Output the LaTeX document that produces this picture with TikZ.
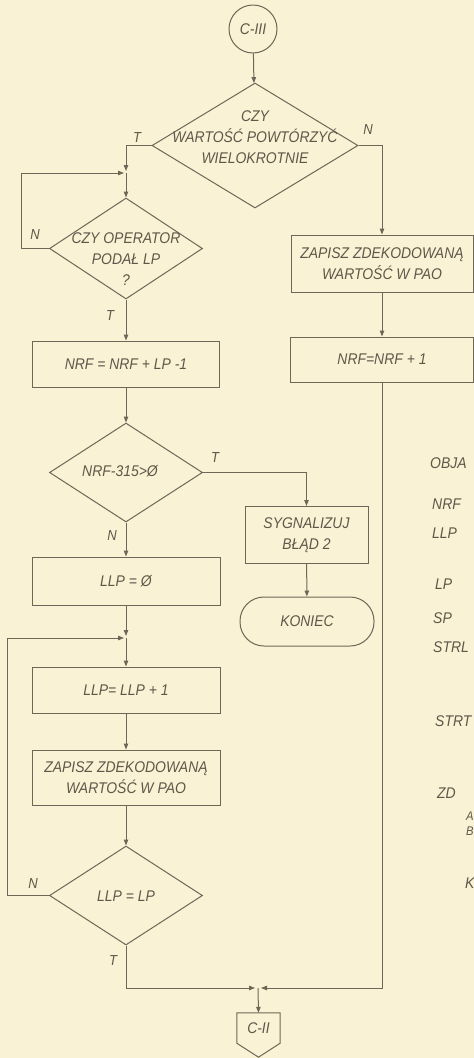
\documentclass[tikz,border=0pt]{standalone}
\usepackage{fontspec}
\setmainfont{Liberation Sans}[FakeStretch=0.9]
\usetikzlibrary{arrows.meta, shapes.geometric, calc, positioning}
\definecolor{paper}{RGB}{250,242,212}
\definecolor{ink}{RGB}{112,102,88}
\definecolor{inktext}{RGB}{96,86,74}

\begin{document}
\begin{tikzpicture}[x=1pt, y=-1pt,
    every node/.style={font=\fontsize{15.5}{21}\selectfont\itshape, text=inktext},
    box/.style={draw=ink, line width=1pt, rectangle, inner sep=0pt, align=center},
    dec/.style={draw=ink, line width=1pt, diamond, inner sep=0pt},
    flow/.style={draw=ink, line width=1pt, -{Triangle[length=6pt,width=4.5pt]}},
    tag/.style={font=\fontsize{14.5}{16}\selectfont\itshape},
    txt/.style={align=center, inner sep=0pt}]
    % Paper
    \clip (0,0) rectangle (474,1058);
    \fill[paper] (0,0) rectangle (474,1058);

    % Left column
    \node[draw=ink, line width=1pt, circle, minimum size=48pt, inner sep=0pt] (c3) at (253,29) {C-III};
    \node[dec, minimum width=206pt, minimum height=125pt] (d1) at (255,145.5) {};
    \node[txt] (d1t) at (255,137) {CZY\\WARTOŚĆ POWTÓRZYĆ\\WIELOKROTNIE};
    \coordinate (m1) at (126,173);
    \node[dec, minimum width=153pt, minimum height=101pt] (d2) at (126,248.5) {};
    \node[txt] (d2t) at (126,259.5) {CZY OPERATOR\\PODAŁ LP\\?};
    \node[box, minimum width=187pt, minimum height=46pt] (b1) at (126,364) {NRF = NRF + LP -1};
    \node[dec, minimum width=153pt, minimum height=99pt] (d3) at (126,472.5) {};
    \node[txt] (d3t) at (120,471) {NRF-315>Ø};
    \node[box, minimum width=188pt, minimum height=48pt] (b2) at (126,581) {LLP = Ø};
    \coordinate (m2) at (126,638);
    \node[box, minimum width=188pt, minimum height=46pt] (b3) at (126,690) {LLP= LLP + 1};
    \node[box, minimum width=188pt, minimum height=55pt] (b4) at (126,777.5) {ZAPISZ ZDEKODOWANĄ\\WARTOŚĆ W PAO};
    \node[dec, minimum width=153pt, minimum height=99pt] (d4) at (126,895.5) {};
    \node[txt] (d4t) at (126,896) {LLP = LP};
    \coordinate (m3) at (258,988);
    \node[inner sep=0pt, minimum width=43pt, minimum height=30pt] (c2) at (258.5,1028) {C-II};
    \draw[ink, line width=1pt] (c2.north west) -- (c2.north east) -- (c2.south east)
        -- ($(c2.south)+(0,14)$) -- (c2.south west) -- cycle;

    % Middle and right column
    \node[box, minimum width=123pt, minimum height=57pt] (sig) at (306.5,535) {SYGNALIZUJ\\BŁĄD 2};
    \node[box, rounded corners=24pt, minimum width=134pt, minimum height=49pt] (kon) at (307,621.5) {KONIEC};
    \node[box, minimum width=182pt, minimum height=57pt] (z1) at (382,263.5) {ZAPISZ ZDEKODOWANĄ\\WARTOŚĆ W PAO};
    \node[box, minimum width=183pt, minimum height=45pt] (n1) at (382,359.5) {NRF=NRF + 1};

    % Connectors
    \draw[flow] (c3) -- (d1);
    \draw[flow, shorten >=2pt] (d1.west) -| (m1);
    \draw[flow, shorten >=2pt] (d2.west) -- ++(-27.5,0) |- (m1);
    \draw[flow] (m1) -- (d2.north);
    \draw[flow] (d2) -- (b1);
    \draw[flow] (b1) -- (d3);
    \draw[flow] (d3.east) -| (sig.north);
    \draw[flow] (sig) -- (kon);
    \draw[flow] (d3) -- (b2);
    \draw[flow, shorten >=2pt] (b2) -- (m2);
    \draw[flow, shorten >=2pt] (d4.west) -- ++(-42,0) |- (m2);
    \draw[flow] (m2) -- (b3);
    \draw[flow] (b3) -- (b4);
    \draw[flow] (b4) -- (d4);
    \draw[flow, shorten >=3pt] (d4.south) |- (m3);
    \draw[flow, shorten >=3pt] (n1.south) |- (m3);
    \draw[flow] (m3) -- (c2.north);
    \draw[flow] (d1.east) -| (z1.north);
    \draw[flow] (z1) -- (n1);

    % T / N marks
    \node[tag] (t1) at (137,138) {T};
    \node[tag] (n1l) at (368,130) {N};
    \node[tag] (n2l) at (35,235) {N};
    \node[tag] (t2) at (110,316) {T};
    \node[tag] (t3) at (215,458) {T};
    \node[tag] (n3l) at (112,536) {N};
    \node[tag] (n4l) at (33,883) {N};
    \node[tag] (t4) at (113,960) {T};

    % Legend, cut by the page edge
    \foreach \lbl/\xx/\yy [count=\i] in {OBJA/430/463, NRF/432/504, LLP/432/533,
        LP/435/584, SP/433/618, STRL/433/647, STRT/435/721, ZD/437/793, K/465/883}
        \node[anchor=west, inner sep=0pt] (leg\i) at (\xx,\yy) {\lbl};
    \node[anchor=west, inner sep=0pt, font=\fontsize{12.5}{14}\selectfont\itshape] (legA) at (466,816) {A};
    \node[anchor=west, inner sep=0pt, font=\fontsize{12.5}{14}\selectfont\itshape] (legB) at (466,831) {B};
\end{tikzpicture}
\end{document}
